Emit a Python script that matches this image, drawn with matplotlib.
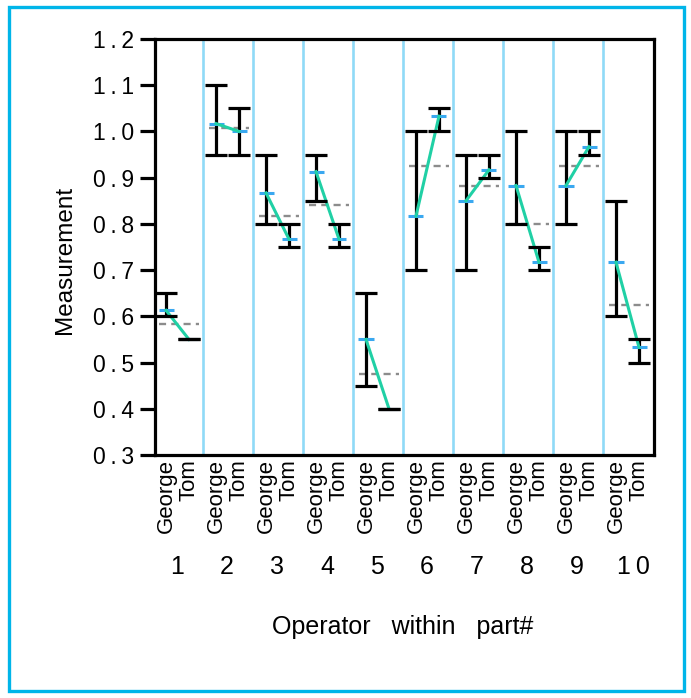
import matplotlib.pyplot as plt
from matplotlib.patches import Rectangle

plt.rcParams['font.family'] = ['Liberation Sans', 'DejaVu Sans']

parts = ['1', '2', '3', '4', '5', '6', '7', '8', '9', '10']
operators = ['George', 'Tom']
yticks = [0.3, 0.4, 0.5, 0.6, 0.7, 0.8, 0.9, 1.0, 1.1, 1.2]

# range (min/max) and mean per operator within part
george_max = [0.65, 1.10, 0.95, 0.95, 0.65, 1.00, 0.95, 1.00, 1.00, 0.85]
george_min = [0.60, 0.95, 0.80, 0.85, 0.45, 0.70, 0.70, 0.80, 0.80, 0.60]
george_mean = [0.613, 1.017, 0.867, 0.913, 0.55, 0.817, 0.85, 0.883, 0.883, 0.717]
tom_max = [0.55, 1.05, 0.80, 0.80, 0.40, 1.05, 0.95, 0.75, 1.00, 0.55]
tom_min = [0.55, 0.95, 0.75, 0.75, 0.40, 1.00, 0.90, 0.70, 0.95, 0.50]
tom_mean = [0.55, 1.00, 0.767, 0.767, 0.40, 1.033, 0.917, 0.717, 0.967, 0.533]
part_mean = [0.583, 1.008, 0.817, 0.84, 0.475, 0.925, 0.883, 0.80, 0.925, 0.625]

W, H = 691, 698
fig = plt.figure(figsize=(W / 100, H / 100), dpi=100)
ax = fig.add_axes([155 / W, 1 - 455 / H, 499 / W, 416 / H])

# blue frame around the figure
fig.patches.append(Rectangle((9 / W, 7 / H), 675 / W, 684 / H, transform=fig.transFigure,
                             fill=False, edgecolor='#00b5e9', linewidth=2.4))

for k in range(1, 10):
    ax.axvline(k, color='#8fdaf7', linewidth=1.9, zorder=1)

gx = [i + 0.26 for i in range(len(parts))]
tx = [i + 0.72 for i in range(len(parts))]
cap = 0.22
mk = 0.15

for i in range(len(parts)):
    # part mean (dashed gray)
    ax.plot([i + 0.12, i + 0.92], [part_mean[i], part_mean[i]], color='#8c8c8c',
            linestyle=(0, (3, 2.2)), linewidth=1.7, zorder=2)
    bars = [(gx[i], george_min[i], george_max[i]), (tx[i], tom_min[i], tom_max[i])]
    for x, lo, hi in bars:
        ax.vlines(x, lo, hi, color='black', linewidth=2.3, zorder=3)
    for x, m in [(gx[i], george_mean[i]), (tx[i], tom_mean[i])]:
        ax.hlines(m, x - mk, x + mk, color='#3aa8f0', linewidth=2.2, zorder=4)
    ax.plot([gx[i], tx[i]], [george_mean[i], tom_mean[i]], color='#20d0a5',
            linewidth=2.2, zorder=5)
    for x, lo, hi in bars:
        ax.hlines([lo, hi], x - cap, x + cap, color='black', linewidth=2.3, zorder=6)

ax.set_xlim(0.04, 10.02)
ax.set_ylim(0.3, 1.2)
ax.set_yticks(yticks)
ax.set_yticklabels(['\u2009'.join('%.1f' % v) for v in yticks])
ax.tick_params(axis='y', length=11, width=2.3, labelsize=16.5, pad=4)

xt = []
xl = []
for i in range(len(parts)):
    xt += [gx[i], tx[i]]
    xl += operators
ax.set_xticks(xt)
ax.set_xticklabels(xl, rotation=90, fontsize=16)
ax.tick_params(axis='x', length=0, pad=3)
for s in ax.spines.values():
    s.set_linewidth(2.3)

for i, p in enumerate(parts):
    label = p if len(p) == 1 else '\u2009'.join(p)
    xpos = 153 + (i + 0.48) * 50 if len(p) == 1 else 633
    fig.text(xpos / W, 1 - 567 / H, label, fontsize=18, ha='center', va='center')

fig.text(403 / W, 1 - 627 / H, 'Operator   within   part#', fontsize=18, ha='center', va='center')
fig.text(65 / W, 1 - 260 / H, 'Measurement', fontsize=17.5, ha='center', va='center', rotation=90)

fig.savefig('out.png', dpi=100)
